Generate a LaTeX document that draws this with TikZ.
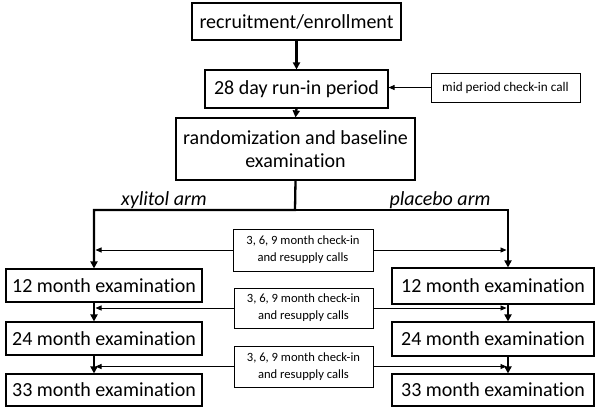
\documentclass[tikz,border=0pt]{standalone}
\usepackage{fontspec}
\setmainfont{Carlito}[Ligatures=NoCommon]
\usetikzlibrary{arrows.meta}
\begin{document}
\begin{tikzpicture}[x=1pt,y=-1pt,
 box/.style={draw,line width=1.1pt,inner sep=0pt,align=center,font=\fontsize{20}{23}\selectfont},
 small/.style={draw,line width=1pt,inner sep=0pt,align=center,font=\fontsize{12.6}{17}\selectfont},
 thickarrow/.style={line width=2.3pt,-{Triangle[length=7pt,width=7pt]}},
 thinarrow/.style={line width=0.9pt,-{Triangle[length=6pt,width=5pt]}},
 armlabel/.style={font=\fontsize{20}{23}\selectfont\itshape}]
\useasboundingbox (0,0) rectangle (600,413);
\node[box,minimum width=209pt,minimum height=37pt] (rec) at (296.5,21.5) {recruitment/enrollment};
\node[box,minimum width=183pt,minimum height=38pt] (run) at (296.5,89) {28 day run-in period};
\node[small,minimum width=149pt,minimum height=29pt,font=\fontsize{13.2}{16}\selectfont] (mid) at (505.5,87.5) {mid period check-in call};
\node[box,minimum width=239pt,minimum height=62pt] (rand) at (295.5,149) {randomization and baseline\\examination};
\node[armlabel] (xyl) at (164,200) {xylitol arm};
\node[armlabel] (pla) at (440,200) {placebo arm};
\node[small,minimum width=140pt,minimum height=42pt] (c1) at (303,250) {3, 6, 9 month check-in\\and resupply calls};
\node[small,minimum width=139pt,minimum height=40pt] (c2) at (303.5,308) {3, 6, 9 month check-in\\and resupply calls};
\node[small,minimum width=139pt,minimum height=41pt] (c3) at (303.5,366.5) {3, 6, 9 month check-in\\and resupply calls};
\node[box,minimum width=196pt,minimum height=33pt] (l12) at (104,285.5) {12 month examination};
\node[box,minimum width=196pt,minimum height=33pt] (l24) at (104,338.5) {24 month examination};
\node[box,minimum width=196pt,minimum height=32pt] (l33) at (104,390) {33 month examination};
\node[box,minimum width=202pt,minimum height=36pt] (r12) at (493,286) {12 month examination};
\node[box,minimum width=202pt,minimum height=34pt] (r24) at (493,339) {24 month examination};
\node[box,minimum width=202pt,minimum height=32pt] (r33) at (493,390) {33 month examination};
\coordinate (split) at (295,210);
\coordinate (lcol) at (94,210);
\coordinate (rcol) at (508,210);
\draw[thickarrow] (rec.south) -- (run.north);
\draw[thickarrow] (run.south) -- (rand.north);
\draw[thinarrow] (mid.west) -- (run.east |- mid.west);
\draw[thickarrow,line join=miter] (rand.south) -- (split) -- (lcol) -- (lcol |- l12.north);
\draw[thickarrow,line join=miter] (split) -- (rcol) -- (rcol |- r12.north);
\draw[thickarrow] (lcol |- l12.south) -- (lcol |- l24.north);
\draw[thickarrow] (lcol |- l24.south) -- (lcol |- l33.north);
\draw[thickarrow] (rcol |- r12.south) -- (rcol |- r24.north);
\draw[thickarrow] (rcol |- r24.south) -- (rcol |- r33.north);
\draw[thinarrow] (c1.west) -- ([xshift=1.5pt]lcol |- c1.west);
\draw[thinarrow] (c1.east) -- ([xshift=-1.5pt]rcol |- c1.east);
\draw[thinarrow] (c2.west) -- ([xshift=1.5pt]lcol |- c2.west);
\draw[thinarrow] (c2.east) -- ([xshift=-1.5pt]rcol |- c2.east);
\draw[thinarrow] (c3.west) -- ([xshift=1.5pt]lcol |- c3.west);
\draw[thinarrow] (c3.east) -- ([xshift=-1.5pt]rcol |- c3.east);
\end{tikzpicture}
\end{document}
